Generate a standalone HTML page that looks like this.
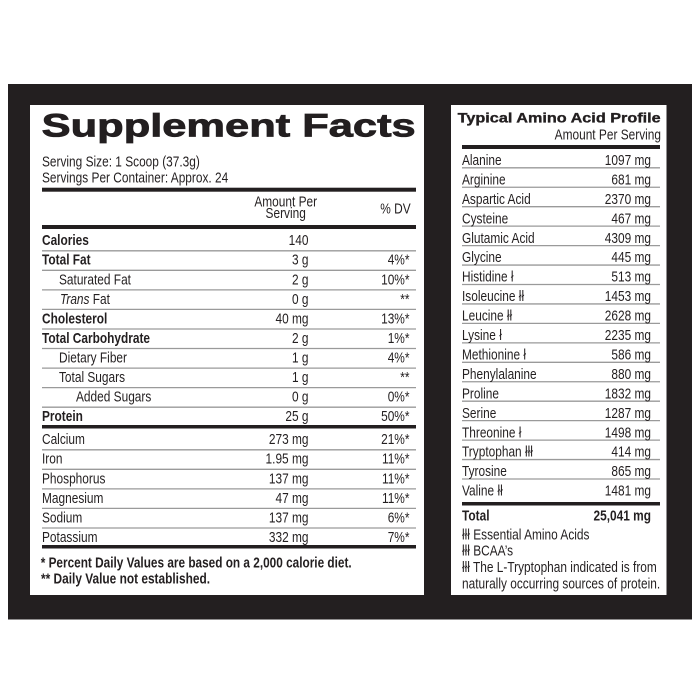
<!DOCTYPE html>
<html>
<head>
<meta charset="utf-8">
<style>
  html,body{margin:0;padding:0;background:#fff;}
  svg{display:block;}
  text{font-family:"Liberation Sans", Arial, sans-serif;fill:#231f20;}
</style>
</head>
<body>
<svg width="700" height="700" viewBox="0 0 700 700" xmlns="http://www.w3.org/2000/svg">
  <rect x="0" y="0" width="700" height="700" fill="#ffffff"/>
  <rect x="8" y="84" width="684" height="535.5" fill="#231f20"/>
  <rect x="30" y="105" width="394" height="490" fill="#ffffff"/>
  <rect x="451" y="105" width="215.5" height="490" fill="#ffffff"/>

  <!-- Left panel title -->
  <text x="41.7" y="136.7" font-size="32" font-weight="bold" textLength="374" lengthAdjust="spacingAndGlyphs" stroke="#231f20" stroke-width="0.8">Supplement Facts</text>

  <!-- thick lines left -->
  <rect x="42" y="187.7" width="374" height="4" fill="#231f20"/>
  <rect x="42" y="225" width="374" height="4" fill="#231f20"/>
  <rect x="42" y="425" width="374" height="3.5" fill="#231f20"/>
  <rect x="42" y="545" width="374" height="3.5" fill="#231f20"/>

  <!-- thin lines left -->
  <g stroke="#9a9a9a" stroke-width="1.3">
    <line x1="42" x2="416" y1="250.8" y2="250.8"/>
    <line x1="42" x2="416" y1="270.3" y2="270.3"/>
    <line x1="42" x2="416" y1="289.9" y2="289.9"/>
    <line x1="42" x2="416" y1="309.4" y2="309.4"/>
    <line x1="42" x2="416" y1="329.0" y2="329.0"/>
    <line x1="42" x2="416" y1="348.5" y2="348.5"/>
    <line x1="42" x2="416" y1="368.1" y2="368.1"/>
    <line x1="42" x2="416" y1="387.6" y2="387.6"/>
    <line x1="42" x2="416" y1="407.2" y2="407.2"/>
    <line x1="42" x2="416" y1="449.8" y2="449.8"/>
    <line x1="42" x2="416" y1="469.3" y2="469.3"/>
    <line x1="42" x2="416" y1="488.9" y2="488.9"/>
    <line x1="42" x2="416" y1="508.4" y2="508.4"/>
    <line x1="42" x2="416" y1="528.0" y2="528.0"/>
  </g>

  <!-- Right panel lines -->
  <rect x="462" y="145" width="198" height="4" fill="#231f20"/>
  <rect x="462" y="502" width="198" height="3.5" fill="#231f20"/>
  <g stroke="#9a9a9a" stroke-width="1.3">
    <line x1="462" x2="660" y1="167.8" y2="167.8"/>
    <line x1="462" x2="660" y1="187.25" y2="187.25"/>
    <line x1="462" x2="660" y1="206.7" y2="206.7"/>
    <line x1="462" x2="660" y1="226.15" y2="226.15"/>
    <line x1="462" x2="660" y1="245.6" y2="245.6"/>
    <line x1="462" x2="660" y1="265.05" y2="265.05"/>
    <line x1="462" x2="660" y1="284.5" y2="284.5"/>
    <line x1="462" x2="660" y1="303.95" y2="303.95"/>
    <line x1="462" x2="660" y1="323.4" y2="323.4"/>
    <line x1="462" x2="660" y1="342.85" y2="342.85"/>
    <line x1="462" x2="660" y1="362.3" y2="362.3"/>
    <line x1="462" x2="660" y1="381.75" y2="381.75"/>
    <line x1="462" x2="660" y1="401.2" y2="401.2"/>
    <line x1="462" x2="660" y1="420.65" y2="420.65"/>
    <line x1="462" x2="660" y1="440.1" y2="440.1"/>
    <line x1="462" x2="660" y1="459.55" y2="459.55"/>
    <line x1="462" x2="660" y1="479.0" y2="479.0"/>
  </g>

  <!-- Right title -->
  <text x="457.7" y="122.7" font-size="14" font-weight="bold" textLength="203" lengthAdjust="spacingAndGlyphs" stroke="#231f20" stroke-width="0.35">Typical Amino Acid Profile</text>

  <!-- Footer left -->
  <text x="40.7" y="567.3" font-size="14.5" font-weight="bold" textLength="311" lengthAdjust="spacingAndGlyphs">* Percent Daily Values are based on a 2,000 calorie diet.</text>
  <text x="41" y="583.3" font-size="14.5" font-weight="bold" textLength="169" lengthAdjust="spacingAndGlyphs">** Daily Value not established.</text>

  <!-- Condensed text group -->
  <g transform="scale(0.82,1)" font-size="14.5">
    <!-- serving info -->
    <text x="51.22" y="166.7">Serving Size: 1 Scoop (37.3g)</text>
    <text x="51.22" y="182.3">Servings Per Container: Approx. 24</text>

    <!-- header -->
    <text x="348.41" y="206.7" text-anchor="middle">Amount Per</text>
    <text x="348.41" y="218.0" text-anchor="middle">Serving</text>
    <text x="500.85" y="213.3" text-anchor="end">% DV</text>

    <!-- names left -->
    <text x="51.22" y="245.2" font-weight="bold">Calories</text>
    <text x="51.22" y="264.75" font-weight="bold">Total Fat</text>
    <text x="71.95" y="284.3">Saturated Fat</text>
    <text x="73.17" y="303.85"><tspan font-style="italic">Trans</tspan> Fat</text>
    <text x="51.22" y="323.4" font-weight="bold">Cholesterol</text>
    <text x="51.22" y="342.95" font-weight="bold">Total Carbohydrate</text>
    <text x="71.95" y="362.5">Dietary Fiber</text>
    <text x="71.95" y="382.05">Total Sugars</text>
    <text x="92.68" y="401.6">Added Sugars</text>
    <text x="51.22" y="421.15" font-weight="bold">Protein</text>
    <text x="51.22" y="444.2">Calcium</text>
    <text x="51.22" y="463.75">Iron</text>
    <text x="51.22" y="483.3">Phosphorus</text>
    <text x="51.22" y="502.85">Magnesium</text>
    <text x="51.22" y="522.4">Sodium</text>
    <text x="51.22" y="541.95">Potassium</text>

    <!-- amounts -->
    <g text-anchor="end">
      <text x="376.22" y="245.2">140</text>
      <text x="376.22" y="264.75">3 g</text>
      <text x="376.22" y="284.3">2 g</text>
      <text x="376.22" y="303.85">0 g</text>
      <text x="376.22" y="323.4">40 mg</text>
      <text x="376.22" y="342.95">2 g</text>
      <text x="376.22" y="362.5">1 g</text>
      <text x="376.22" y="382.05">1 g</text>
      <text x="376.22" y="401.6">0 g</text>
      <text x="376.22" y="421.15">25 g</text>
      <text x="376.22" y="444.2">273 mg</text>
      <text x="376.22" y="463.75">1.95 mg</text>
      <text x="376.22" y="483.3">137 mg</text>
      <text x="376.22" y="502.85">47 mg</text>
      <text x="376.22" y="522.4">137 mg</text>
      <text x="376.22" y="541.95">332 mg</text>

      <!-- DV -->
      <text x="499.39" y="264.75">4%*</text>
      <text x="499.39" y="284.3">10%*</text>
      <text x="499.39" y="303.85">**</text>
      <text x="499.39" y="323.4">13%*</text>
      <text x="499.39" y="342.95">1%*</text>
      <text x="499.39" y="362.5">4%*</text>
      <text x="499.39" y="382.05">**</text>
      <text x="499.39" y="401.6">0%*</text>
      <text x="499.39" y="421.15">50%*</text>
      <text x="499.39" y="444.2">21%*</text>
      <text x="499.39" y="463.75">11%*</text>
      <text x="499.39" y="483.3">11%*</text>
      <text x="499.39" y="502.85">11%*</text>
      <text x="499.39" y="522.4">6%*</text>
      <text x="499.39" y="541.95">7%*</text>
    </g>

    <!-- right panel -->
    <text x="806.10" y="139.3" text-anchor="end">Amount Per Serving</text>

    <text x="563.41" y="165">Alanine</text>
    <text x="563.41" y="184.45">Arginine</text>
    <text x="563.41" y="203.9">Aspartic Acid</text>
    <text x="563.41" y="223.35">Cysteine</text>
    <text x="563.41" y="242.8">Glutamic Acid</text>
    <text x="563.41" y="262.25">Glycine</text>
    <text x="563.41" y="281.7">Histidine ł</text>
    <text x="563.41" y="301.15">Isoleucine łł</text>
    <text x="563.41" y="320.6">Leucine łł</text>
    <text x="563.41" y="340.05">Lysine ł</text>
    <text x="563.41" y="359.5">Methionine ł</text>
    <text x="563.41" y="378.95">Phenylalanine</text>
    <text x="563.41" y="398.4">Proline</text>
    <text x="563.41" y="417.85">Serine</text>
    <text x="563.41" y="437.3">Threonine ł</text>
    <text x="563.41" y="456.75">Tryptophan łłł</text>
    <text x="563.41" y="476.2">Tyrosine</text>
    <text x="563.41" y="495.65">Valine łł</text>

    <g text-anchor="end">
      <text x="793.90" y="165">1097 mg</text>
      <text x="793.90" y="184.45">681 mg</text>
      <text x="793.90" y="203.9">2370 mg</text>
      <text x="793.90" y="223.35">467 mg</text>
      <text x="793.90" y="242.8">4309 mg</text>
      <text x="793.90" y="262.25">445 mg</text>
      <text x="793.90" y="281.7">513 mg</text>
      <text x="793.90" y="301.15">1453 mg</text>
      <text x="793.90" y="320.6">2628 mg</text>
      <text x="793.90" y="340.05">2235 mg</text>
      <text x="793.90" y="359.5">586 mg</text>
      <text x="793.90" y="378.95">880 mg</text>
      <text x="793.90" y="398.4">1832 mg</text>
      <text x="793.90" y="417.85">1287 mg</text>
      <text x="793.90" y="437.3">1498 mg</text>
      <text x="793.90" y="456.75">414 mg</text>
      <text x="793.90" y="476.2">865 mg</text>
      <text x="793.90" y="495.65">1481 mg</text>
      <text x="793.90" y="520.7" font-weight="bold">25,041 mg</text>
    </g>
    <text x="563.41" y="520.7" font-weight="bold">Total</text>

    <text x="563.41" y="539.3">łłł Essential Amino Acids</text>
    <text x="563.41" y="555.3">łłł BCAA’s</text>
    <text x="563.41" y="571.8">łłł The L-Tryptophan indicated is from</text>
    <text x="563.41" y="588.3">naturally occurring sources of protein.</text>
  </g>
</svg>
</body>
</html>
